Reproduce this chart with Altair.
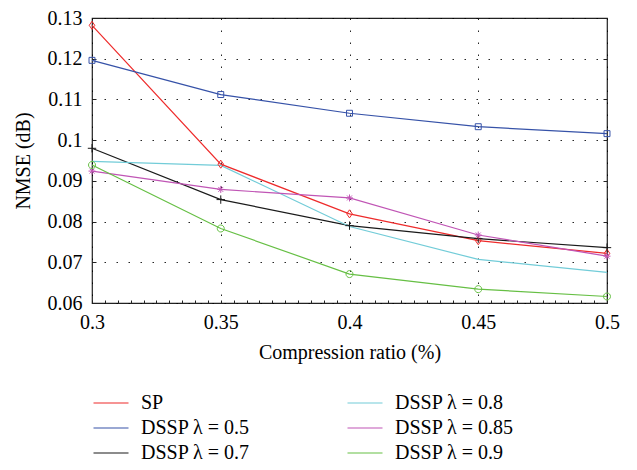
import altair as alt
import pandas as pd

# ---------------- data ----------------
ratio = [0.3, 0.35, 0.4, 0.45, 0.5]
series_names = ["SP", "DSSP λ = 0.5", "DSSP λ = 0.7",
                "DSSP λ = 0.8", "DSSP λ = 0.85", "DSSP λ = 0.9"]
sp = [0.1282, 0.0941, 0.0819, 0.0753, 0.0722]
dssp_05 = [0.1196, 0.1112, 0.1066, 0.1033, 0.1016]
dssp_07 = [0.0980, 0.0854, 0.0790, 0.0758, 0.0736]
dssp_08 = [0.0948, 0.0938, 0.0788, 0.0707, 0.0675]
dssp_085 = [0.0924, 0.0879, 0.0858, 0.0767, 0.0715]
dssp_09 = [0.0939, 0.0783, 0.0671, 0.0634, 0.0616]
series_values = [sp, dssp_05, dssp_07, dssp_08, dssp_085, dssp_09]

x_ticks = [0.3, 0.35, 0.4, 0.45, 0.5]
y_ticks = [0.06, 0.07, 0.08, 0.09, 0.1, 0.11, 0.12, 0.13]
minor_x_ticks = [round(0.3 + 0.005 * i, 3) for i in range(41)]

rows = []
for name, vals in zip(series_names, series_values):
    for r, v in zip(ratio, vals):
        rows.append({"ratio": r, "nmse": v, "series": name})
df = pd.DataFrame(rows)

# ---------------- styles ----------------
colors = {
    "SP": "#ee2b2b",
    "DSSP λ = 0.5": "#3652a8",
    "DSSP λ = 0.7": "#1a1a1a",
    "DSSP λ = 0.8": "#72ccd8",
    "DSSP λ = 0.85": "#c055b5",
    "DSSP λ = 0.9": "#66bf44",
}
DIAMOND = "M0,-1.15L0.8,0L0,1.15L-0.8,0Z"
SQUARE = "M-0.85,-0.85H0.85V0.85H-0.85Z"
PLUS = "M-1.2,0H1.2M0,-1.2V1.2"
STAR = "M-1,0H1M0,-1V1M-0.7,-0.7L0.7,0.7M-0.7,0.7L0.7,-0.7"
CIRCLE = "M1,0A1,1 0 1,1 -1,0A1,1 0 1,1 1,0Z"
markers = {
    "SP": DIAMOND,
    "DSSP λ = 0.5": SQUARE,
    "DSSP λ = 0.7": PLUS,
    "DSSP λ = 0.85": STAR,
    "DSSP λ = 0.9": CIRCLE,
}

FONT = "Liberation Serif"
FS = 20

x_scale = alt.Scale(domain=[0.3, 0.5], nice=False, zero=False)
y_scale = alt.Scale(domain=[0.06, 0.13], nice=False, zero=False)

main_x_axis = alt.Axis(values=x_ticks, format=".2~f", title="Compression ratio (%)",
                       grid=True, ticks=False, domain=False, labelPadding=9,
                       titlePadding=10, labelFlush=False)
main_y_axis = alt.Axis(values=y_ticks, format=".2~f", title="NMSE (dB)",
                       grid=True, ticks=False, domain=False, labelPadding=10,
                       titlePadding=14)

leg = alt.Legend(title=None, orient="none", legendX=9, legendY=375, columns=2,
                 direction="vertical",
                 columnPadding=95, rowPadding=5, labelOffset=20, padding=0,
                 symbolType="M-2.5,0H2.5", symbolSize=196, symbolStrokeWidth=1.2,
                 labelFontSize=FS, labelFont=FONT, labelColor="black", labelLimit=300)

base = alt.Chart(df)

lines = base.mark_line(strokeWidth=1.2).encode(
    x=alt.X("ratio:Q", scale=x_scale, axis=main_x_axis),
    y=alt.Y("nmse:Q", scale=y_scale, axis=main_y_axis),
    color=alt.Color("series:N",
                    scale=alt.Scale(domain=series_names, range=[colors[n] for n in series_names]),
                    legend=leg),
)

marker_layers = []
for name in series_names:
    if name not in markers:
        continue
    marker_layers.append(
        base.transform_filter(alt.datum.series == name)
        .mark_point(shape=markers[name], filled=False, size=49, strokeWidth=1,
                    color=colors[name], opacity=1)
        .encode(
            x=alt.X("ratio:Q", axis=None),
            y=alt.Y("nmse:Q", axis=None),
        )
    )

# inward ticks: bottom minor ticks + right / left ticks
ticks_a = base.mark_point(opacity=0).encode(
    x=alt.X("ratio:Q", axis=alt.Axis(orient="bottom", values=minor_x_ticks, tickSize=3,
                                     offset=-3, labels=False, domain=False, grid=False,
                                     title=None, tickColor="#222")),
    y=alt.Y("nmse:Q", axis=alt.Axis(orient="right", values=y_ticks, tickSize=4, offset=-4,
                                    labels=False, domain=False, grid=False, title=None,
                                    tickColor="#222")),
)
ticks_b = base.mark_point(opacity=0).encode(
    y=alt.Y("nmse:Q", axis=alt.Axis(orient="left", values=y_ticks, tickSize=4, offset=-4,
                                    labels=False, domain=False, grid=False, title=None,
                                    tickColor="#222")),
)

chart = alt.layer(lines, *marker_layers, ticks_a, ticks_b).resolve_axis(
    x="independent", y="independent"
).properties(
    width=515, height=285,
    autosize=alt.AutoSizeParams(type="none"),
    padding={"left": 84, "top": 10, "right": 22, "bottom": 166},
).configure(
    font=FONT
).configure_axis(
    labelFontSize=FS, titleFontSize=FS, labelFont=FONT, titleFont=FONT,
    titleFontWeight="normal", labelColor="black", titleColor="black",
    gridColor="#000", gridOpacity=0.85, gridDash=[1.5, 10.5], gridWidth=1,
).configure_view(
    stroke="#222", strokeWidth=1.2
)

chart.save("out.html", embed_options={"renderer": "svg", "actions": False})
